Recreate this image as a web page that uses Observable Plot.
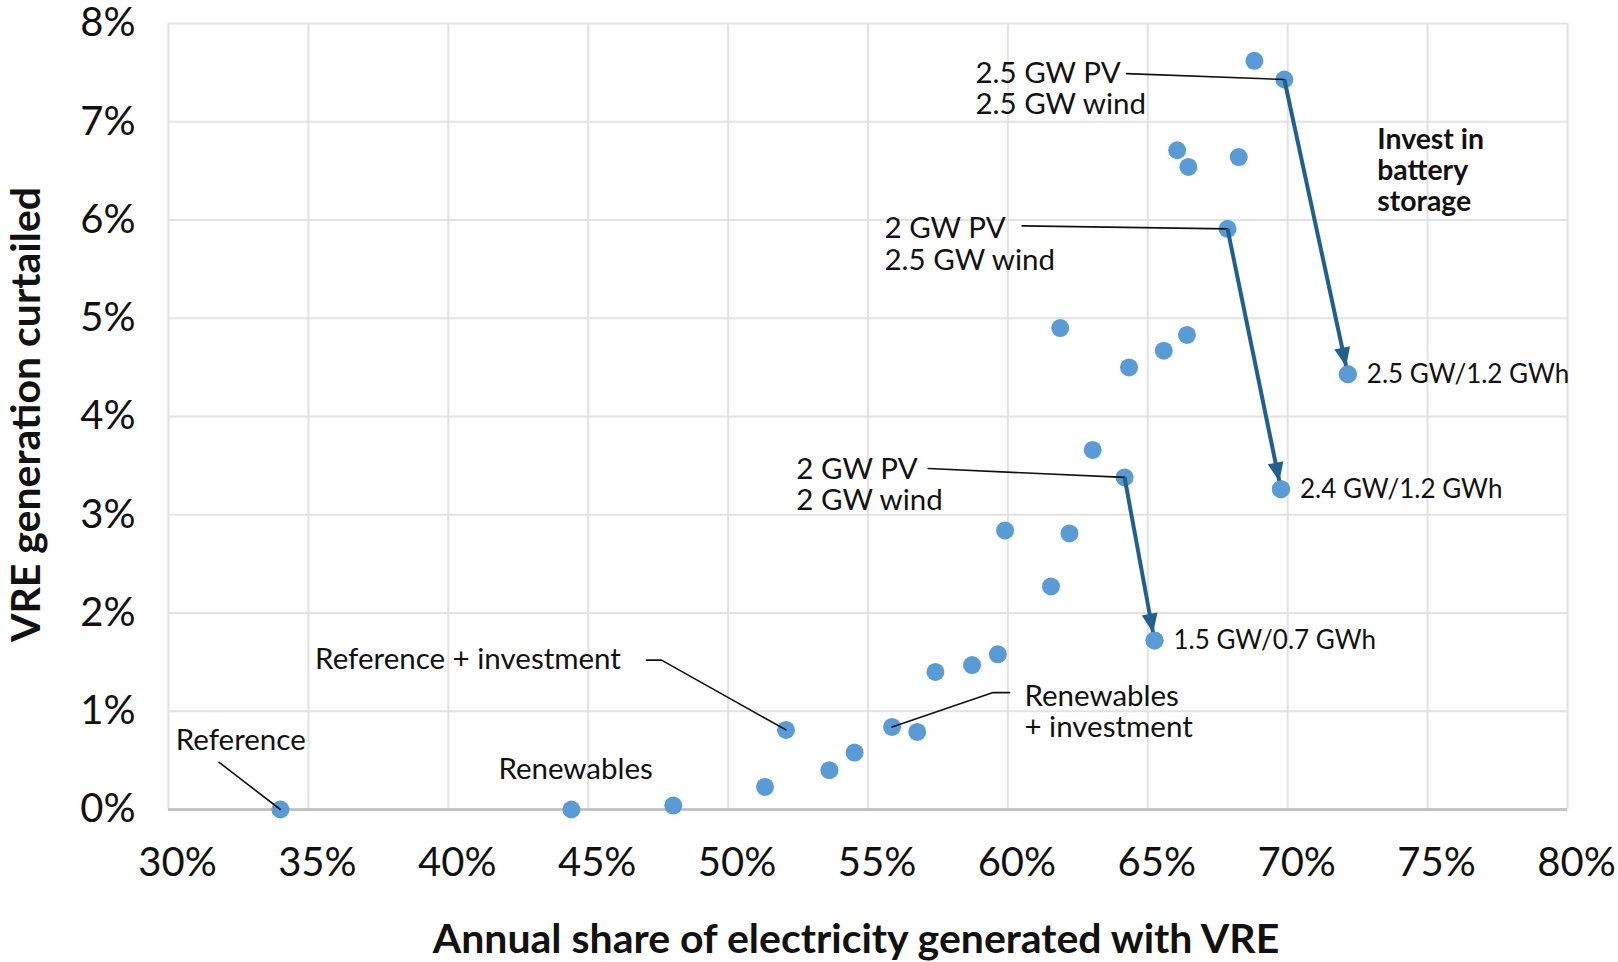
<!DOCTYPE html>
<html><head><meta charset="utf-8">
<script src="https://cdn.jsdelivr.net/npm/d3@7"></script>
<script src="https://cdn.jsdelivr.net/npm/@observablehq/plot@0.6"></script>
<style>
html,body{margin:0;padding:0;background:#fff;}
#chart svg{display:block;}
</style></head><body><div id="chart"></div>
<script>
// ---- data (percent units) ----
const shareVRE  = [34.0, 44.4, 48.04, 51.32, 52.07, 53.62, 54.52, 55.86, 56.76, 57.41, 58.72, 59.64, 59.90, 61.54, 62.2, 63.03, 61.87, 64.33, 65.57, 66.40, 64.17, 65.24, 67.85, 69.76, 66.05, 66.45, 68.25, 68.81, 69.88, 72.15];
const curtailed = [0,    0,    0.04,  0.23,  0.81,  0.40,  0.58,  0.84,  0.79,  1.40,  1.47,  1.58,  2.84,  2.27,  2.81, 3.66,  4.90,  4.50,  4.67,  4.83,  3.38,  1.72,  5.91,  3.26,  6.71,  6.54,  6.64,  7.62,  7.43,  4.43];

// battery investment arrows (index of scenario before -> after)
const arrowFrom = [28, 22, 20];
const arrowTo   = [29, 23, 21];
const storageLabels = ["2.5 GW/1.2 GWh", "2.4 GW/1.2 GWh", "1.5 GW/0.7 GWh"];

// callout labels
const calloutLabels = ["Reference", "Renewables", "Reference + investment", "Renewables\n+ investment", "2 GW PV\n2 GW wind", "2 GW PV\n2.5 GW wind", "2.5 GW PV\n2.5 GW wind"];
const calloutPoint  = [0, 1, 4, 7, 20, 22, 28];

const xTicks = [30, 35, 40, 45, 50, 55, 60, 65, 70, 75, 80];
const yTicks = [0, 1, 2, 3, 4, 5, 6, 7, 8];
const xTitle = "Annual share of electricity generated with VRE";
const yTitle = "VRE generation curtailed";
const noteText = "Invest in\nbattery\nstorage";

// ---- annotation placement (data units) ----
const calloutX = [30.26, 41.79, 35.24, 60.59, 52.44, 55.59, 58.84];
const calloutY = [0.71, 0.41, 1.53, 1.00, 3.31, 5.76, 7.34];
// leader line waypoints before reaching the point (null = no leader)
const leaderPts = [
  [[31.81, 0.48]],
  null,
  [[47.08, 1.52], [47.62, 1.52]],
  [[60.06, 1.19], [59.47, 1.19]],
  [[57.15, 3.47]],
  [[60.51, 5.94]],
  [[64.24, 7.49]]
];
const notePos = {x: 73.2, y: 6.51};

// ---- derived tables ----
const points = shareVRE.map((x, i) => ({x, y: curtailed[i]}));
const arrows = arrowFrom.map((f, k) => ({x1: shareVRE[f], y1: curtailed[f], x2: shareVRE[arrowTo[k]], y2: curtailed[arrowTo[k]], label: storageLabels[k]}));
const targets = arrowTo.map(i => points[i]);
const callouts = calloutLabels.map((label, k) => ({label, x: calloutX[k], y: calloutY[k]}));
const leaders = [];
leaderPts.forEach((pts, k) => {
  if (!pts) return;
  pts.forEach(([x, y]) => leaders.push({id: k, x, y}));
  const p = points[calloutPoint[k]];
  leaders.push({id: k, x: p.x, y: p.y});
});

const arrowColor = "#21608c";
function headMarker() {
  const ns = "http://www.w3.org/2000/svg";
  const m = document.createElementNS(ns, "marker");
  m.setAttribute("viewBox", "-30 -10 30 20");
  m.setAttribute("markerUnits", "userSpaceOnUse");
  m.setAttribute("markerWidth", "30");
  m.setAttribute("markerHeight", "20");
  m.setAttribute("refX", "0");
  m.setAttribute("refY", "0");
  m.setAttribute("orient", "auto");
  m.setAttribute("fill", arrowColor);
  m.setAttribute("stroke", "none");
  const p = document.createElementNS(ns, "path");
  p.setAttribute("d", "M-27,-8L-8,0L-27,8Z");
  m.appendChild(p);
  return m;
}

const chart = Plot.plot({
  width: 1618,
  height: 962,
  marginLeft: 168,
  marginRight: 51,
  marginTop: 23,
  marginBottom: 153,
  style: {fontFamily: "Lato, 'Open Sans', sans-serif", background: "#fff", color: "#111", overflow: "visible"},
  x: {domain: [30, 80]},
  y: {domain: [0, 8]},
  marks: [
    Plot.gridX(xTicks, {stroke: "#e2e2e2", strokeOpacity: 1, strokeWidth: 2}),
    Plot.gridY(yTicks, {stroke: "#e2e2e2", strokeOpacity: 1, strokeWidth: 2}),
    Plot.ruleY([0], {stroke: "#bdbdbd", strokeWidth: 2.5}),
    Plot.dot(points, {x: "x", y: "y", r: 9, fill: "#5b9bd5", stroke: "none"}),
    Plot.line(leaders, {x: "x", y: "y", z: "id", stroke: "#111", strokeWidth: 1.6, curve: "linear"}),
    Plot.link(arrows, {x1: "x1", y1: "y1", x2: "x2", y2: "y2", stroke: arrowColor, strokeWidth: 4, markerEnd: headMarker}),
    Plot.dot(targets, {x: "x", y: "y", r: 9, fill: "#5b9bd5", stroke: "none"}),
    Plot.text(arrows, {x: "x2", y: "y2", text: "label", dx: 19, textAnchor: "start", fontSize: 26, fill: "#111"}),
    Plot.text(callouts, {x: "x", y: "y", text: "label", textAnchor: "start", lineAnchor: "middle", lineHeight: 1.08, fontSize: 29.5, fill: "#111"}),
    Plot.text([noteText], {x: () => notePos.x, y: () => notePos.y, text: d => d, textAnchor: "start", lineAnchor: "middle", lineHeight: 1.09, fontSize: 28.4, fontWeight: "bold", fill: "#111"}),
    Plot.axisX(xTicks, {tickSize: 0, tickPadding: 38, dx: 9, fontSize: 40, tickFormat: d => d + "%", label: null}),
    Plot.axisY(yTicks, {tickSize: 0, tickPadding: 33, fontSize: 40, tickFormat: d => d + "%", label: null}),
    Plot.text([xTitle], {frameAnchor: "bottom", dy: 130, dx: -12, text: d => d, textAnchor: "middle", fontSize: 41, fontWeight: "bold", fill: "#111", lineAnchor: "middle"}),
    Plot.text([yTitle], {frameAnchor: "left", dx: -142, dy: -2, rotate: -90, text: d => d, textAnchor: "middle", fontSize: 41, fontWeight: "bold", fill: "#111", lineAnchor: "middle"})
  ]
});
document.getElementById("chart").appendChild(chart);
</script></body></html>
